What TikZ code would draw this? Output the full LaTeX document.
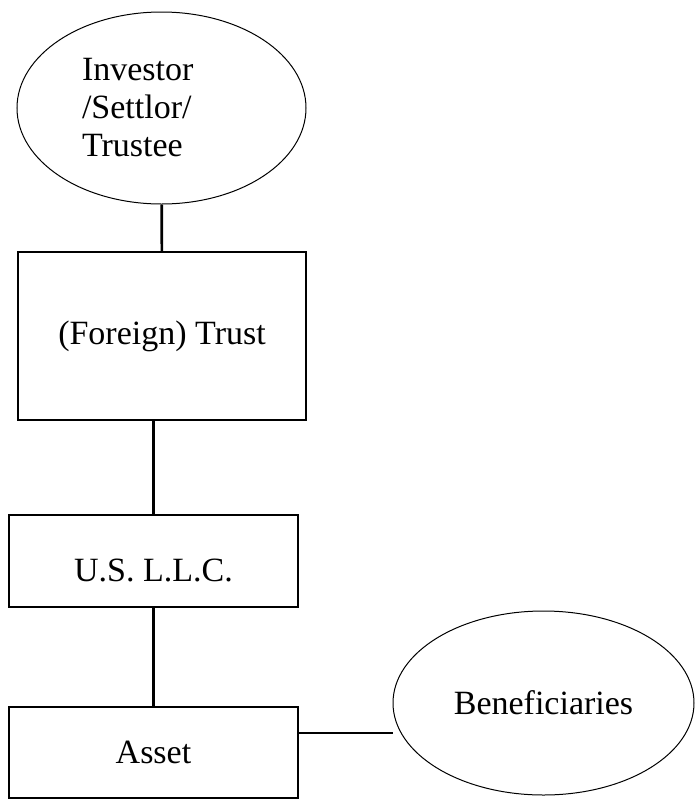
\documentclass[tikz,border=0pt]{standalone}
\usepackage{fontspec}
\setmainfont{Liberation Serif}
\usetikzlibrary{shapes}

\begin{document}
\begin{tikzpicture}[x=1pt,y=-1pt]
			\tikzstyle{every node}=[font=\fontsize{34}{38}\selectfont,inner sep=0pt]
			\tikzstyle{oval}=[ellipse,draw,line width=1pt]
			\tikzstyle{box}=[rectangle,draw,line width=1.6pt,minimum width=289pt]
			\tikzstyle{link}=[line width=2.6pt]

			\useasboundingbox (0,0) rectangle (695,801);

			\node[oval,minimum width=289pt,minimum height=192pt,text width=159pt,align=left] (investor) at (161.5,108) {Investor\\/Settlor/\\Trustee};
			\node[box,minimum width=288pt,minimum height=168pt] (trust) at (162,336) {(Foreign) Trust};
			\node[box,minimum height=92pt,text height=42pt] (llc) at (153.5,561) {U.S. L.L.C.};
			\node[box,minimum height=91pt] (asset) at (153.5,752.5) {Asset};
			\node[oval,minimum width=301pt,minimum height=184pt] (benef) at (543.5,703) {Beneficiaries};

			\draw[link] (investor) -- (trust);
			\draw[link] (llc.north |- trust.south) -- (llc.north);
			\draw[link] (llc) -- (asset);
			\draw[link] ([yshift=19.5pt]asset.east) -- ([yshift=19.5pt]asset.east -| benef.west);
			\end{tikzpicture}
\end{document}
